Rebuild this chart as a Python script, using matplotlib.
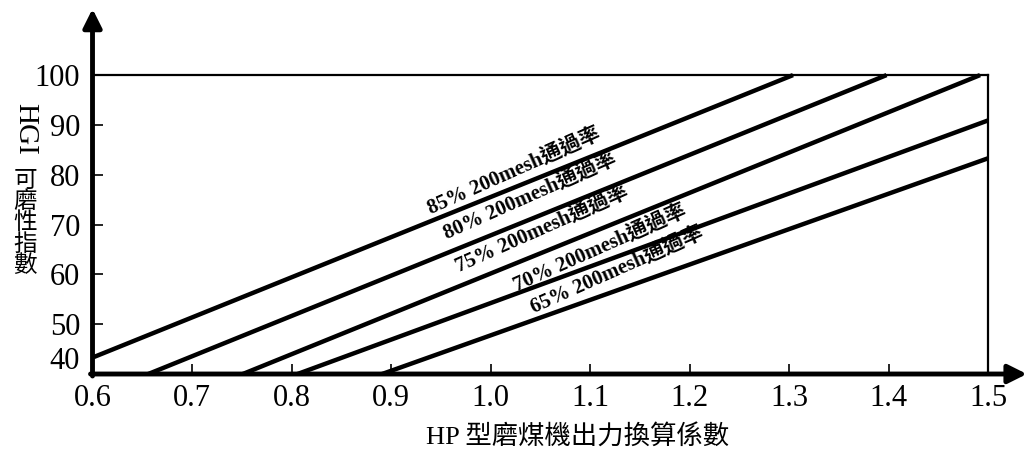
import matplotlib
matplotlib.use('Agg')
import matplotlib.pyplot as plt
import matplotlib.transforms as mtransforms

plt.rcParams['font.family'] = ['Liberation Serif', 'Noto Sans CJK TC', 'DejaVu Sans']

# values
mesh = [85, 80, 75, 70, 65]
x_start = [0.600, 0.656, 0.751, 0.806, 0.891]
y_start = [43.3, 40.0, 40.0, 40.0, 40.0]
x_end = [1.304, 1.398, 1.492, 1.500, 1.500]
y_end = [100.0, 100.0, 100.0, 90.9, 83.3]

x_ticks = [0.6, 0.7, 0.8, 0.9, 1.0, 1.1, 1.2, 1.3, 1.4, 1.5]
y_ticks = [40, 50, 60, 70, 80, 90, 100]

# where the line captions sit
label_x = [1.024, 1.040, 1.052, 1.110, 1.127]
label_y = [80.6, 75.6, 69.0, 65.2, 60.6]

fig = plt.figure(figsize=(10.29, 4.55), dpi=100)
ax = fig.add_axes([0.0899, 0.178, 0.908, 0.796])
ax.set_xlim(0.6, 1.539)
ax.set_ylim(40, 112.7)

for s in ax.spines.values():
    s.set_visible(False)

# frame of the region
ax.plot([0.6, 1.5], [100, 100], color='black', lw=1.6)
ax.plot([1.5, 1.5], [40, 100], color='black', lw=1.6)

for i in range(len(mesh)):
    ax.plot([x_start[i], x_end[i]], [y_start[i], y_end[i]], color='black', lw=3.2,
            solid_capstyle='butt')
    ax.text(label_x[i], label_y[i], f'{mesh[i]}% 200mesh通過率', rotation=24,
            ha='center', va='center', fontsize=15, fontweight='bold',
            rotation_mode='anchor')

# arrow axes
arrow = dict(arrowstyle='-|>', lw=3.5, color='black', mutation_scale=28,
             shrinkA=0, shrinkB=0)
ax.annotate('', xy=(0.6, 113.3), xytext=(0.6, 39.6), arrowprops=arrow,
            annotation_clip=False)
ax.annotate('', xy=(1.539, 40), xytext=(0.598, 40), arrowprops=arrow,
            annotation_clip=False)

ax.set_xticks(x_ticks)
ax.set_xticklabels([f'{v:.1f}' for v in x_ticks])
ax.set_yticks(y_ticks)
ax.set_yticklabels([str(v) for v in y_ticks])
ax.tick_params(axis='both', direction='in', length=7, width=1.2, labelsize=22)
ax.tick_params(axis='x', pad=7)
ax.tick_params(axis='y', pad=9)

# the 40 label sits above the axis in the original
lab40 = ax.get_yticklabels()[0]
lab40.set_transform(lab40.get_transform() +
                    mtransforms.ScaledTranslation(0, 16 / 100, fig.dpi_scale_trans))
ax.yaxis.get_major_ticks()[0].tick1line.set_visible(False)

# axis titles
fig.text(578 / 1029, 1 - 437 / 455, 'HP 型磨煤機出力換算係數', ha='center', va='center',
         fontsize=19)
fig.text(25 / 1029, 1 - 129 / 455, 'HGI', rotation=-90, ha='center', va='center',
         fontsize=21)
fig.text(25 / 1029, 1 - 224 / 455, '可\n磨\n性\n指\n數', ha='center', va='center',
         fontsize=17, linespacing=0.98)

fig.savefig('out.png', dpi=100)
